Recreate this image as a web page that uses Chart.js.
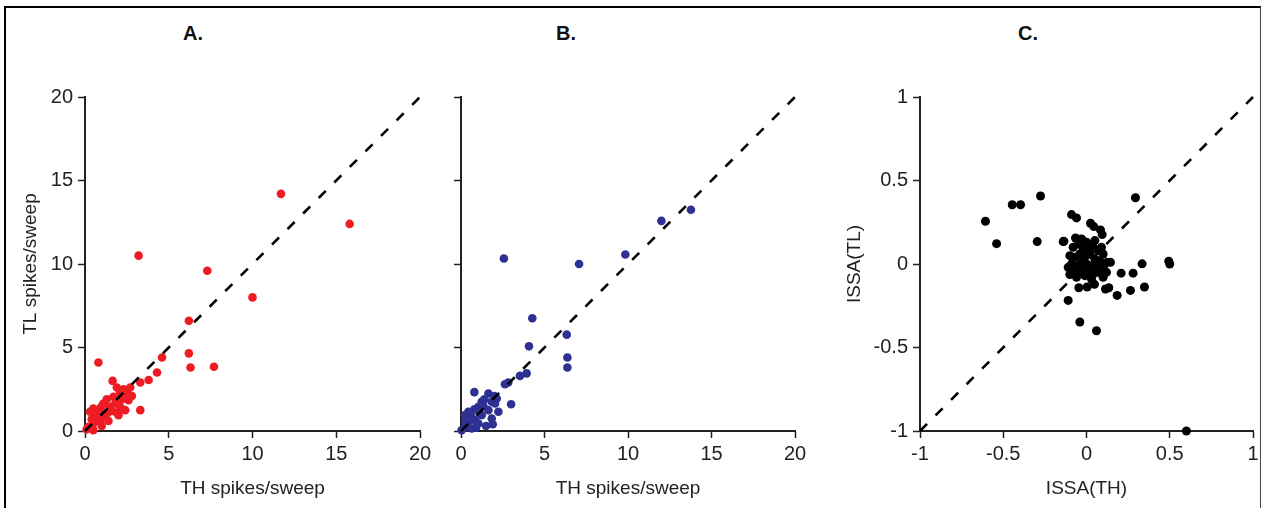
<!DOCTYPE html>
<html><head><meta charset="utf-8">
<script src="https://cdn.jsdelivr.net/npm/chart.js@4/dist/chart.umd.min.js"></script>
<style>
html,body{margin:0;padding:0;background:#fff;width:1263px;height:508px;overflow:hidden;position:relative;font-family:'Liberation Sans',Arial,sans-serif}
#frame{position:absolute;left:4px;top:6px;width:1257px;height:540px;border:2px solid #000;border-right:1.5px solid #444;border-bottom:none;box-sizing:border-box}
.wrap{position:absolute}
.lbl{position:absolute;font-weight:bold;font-size:20px;color:#111;transform:translateX(-50%)}
</style>
</head><body>
<div id="frame"></div>
<div class="lbl" style="left:193px;top:22px">A.</div>
<div class="lbl" style="left:566px;top:22px">B.</div>
<div class="lbl" style="left:1028px;top:22px">C.</div>
<div class="wrap" style="left:8px;top:80px"><canvas id="cA" width="432" height="425"></canvas></div>
<div class="wrap" style="left:445px;top:80px"><canvas id="cB" width="370" height="425"></canvas></div>
<div class="wrap" style="left:820px;top:80px"><canvas id="cC" width="443" height="425"></canvas></div>
<script>
// ---- data ----
const spikeTicks = [0, 5, 10, 15, 20];
const issaTicks = [-1, -0.5, 0, 0.5, 1];

const aTH = [15.8,11.7,3.2,7.3,10.0,6.2,6.2,6.3,7.7,4.6,0.8,3.8,3.3,4.3,3.3,1.65,
  2.3,2.1,2.5,2.6,2.4,2.0,1.7,1.8,1.5,1.1,0.9,0.5,0.3,1.2,0.9,0.5,0.2,0.5,1.35,0.8,2.1,1.0,0.7,1.4,1.9,2.2,1.3,0.6,0.1,1.6,1.0,0.4,2.8,2.7,1.9];
const aTL = [12.4,14.2,10.5,9.6,8.0,6.6,4.65,3.8,3.85,4.4,4.1,3.05,2.9,3.5,1.25,3.0,
  2.5,2.3,2.2,1.85,1.25,0.95,2.05,1.65,1.45,1.65,1.35,1.35,1.15,0.85,0.55,0.45,0.25,0.05,1.1,1.1,1.45,0.3,0.8,0.6,2.6,1.9,1.9,1.0,0.1,1.2,1.5,0.7,2.1,2.6,1.1];

const bTH = [2.57,7.07,9.84,12.0,13.77,4.27,6.33,4.07,6.37,6.37,3.93,3.53,2.83,2.63,0.8,1.64,2.14,3.0,1.84,1.24,1.04,0.8,0.44,0.24,1.64,1.24,1.84,0.84,0.44,1.04,0.24,0.64,0.04,2.04,1.34,2.24,1.5,0.6,2.0,1.1,0.3,1.9,1.4,0.9];
const bTL = [10.33,10.0,10.57,12.58,13.25,6.75,5.77,5.07,4.4,3.8,3.45,3.3,2.9,2.8,2.33,2.25,1.95,1.6,1.75,1.75,1.45,1.3,1.15,0.95,1.25,0.95,0.75,0.65,0.55,0.45,0.25,0.15,0.05,1.65,1.5,1.15,0.3,0.9,2.1,1.1,0.6,0.4,1.9,0.2];

const cTH = [-0.607,-0.54,-0.446,-0.396,-0.276,-0.296,-0.14,-0.09,-0.06,0.024,0.044,0.084,0.094,-0.136,-0.066,-0.026,0.334,0.494,0.5,0.294,0.208,0.28,0.348,0.264,0.184,0.134,0.114,0.048,0.004,-0.046,-0.11,-0.04,0.06,-0.1,0.124,0.144,0.6,
  -0.08,-0.05,-0.02,0.01,0.04,0.07,0.10,-0.10,-0.07,-0.04,-0.01,0.02,0.05,0.08,0.11,-0.09,-0.06,-0.03,0.0,0.03,0.06,0.09,-0.08,-0.05,-0.02,0.01,0.04,0.07,0.10,-0.06,-0.01,0.03,0.0,0.05,-0.03,0.12,-0.11,0.09];
const cTL = [0.256,0.122,0.355,0.355,0.407,0.134,0.134,0.296,0.276,0.244,0.224,0.204,0.176,0.136,0.156,0.144,0.001,0.017,0.0,0.397,-0.055,-0.055,-0.138,-0.158,-0.188,-0.142,-0.15,-0.122,-0.138,-0.142,-0.218,-0.347,-0.40,-0.063,0.01,0.01,-1.0,
  0.10,0.12,0.09,0.11,0.10,0.08,0.06,0.05,0.04,0.06,0.04,0.06,0.03,0.02,0.0,0.0,-0.01,0.01,0.0,-0.01,-0.02,-0.03,-0.04,-0.05,-0.03,-0.04,-0.06,-0.05,-0.08,-0.08,-0.07,-0.09,0.13,0.14,0.15,-0.05,-0.02,0.10];

// ---- helpers ----
const FONT = "'Liberation Sans', Arial, sans-serif";
const INK = '#222';
function pts(xs, ys){ return xs.map((x,i)=>({x:x, y:ys[i]})); }

function axis(ticksArr, opts){
  return {
    type:'linear', min:ticksArr[0], max:ticksArr[ticksArr.length-1],
    afterBuildTicks: s => { s.ticks = ticksArr.map(v=>({value:v})); },
    afterFit: s => { if (opts.w !== undefined) s.width = opts.w; if (opts.h !== undefined) s.height = opts.h; },
    grid:{ display:true, drawOnChartArea:false, drawTicks:true, tickLength:7, tickWidth:1.5, tickColor:INK },
    border:{ display:true, color:INK, width:2 },
    ticks:{ display:true, color:INK, padding:opts.tp, font:{family:FONT, size:20},
            callback: v => opts.labels ? String(v) : '' },
    title:{ display: !!opts.title, text: opts.title || '', color:INK,
            font:{family:FONT, size:19}, padding: opts.titlePad }
  };
}

function makeChart(id, xs, ys, color, r, ticksArr, cfg){
  const lo = ticksArr[0], hi = ticksArr[ticksArr.length-1];
  return new Chart(document.getElementById(id), {
    type:'scatter',
    data:{ datasets:[
      { type:'line', data:[{x:lo,y:lo},{x:hi,y:hi}], showLine:true, borderColor:'#000', borderWidth:2.6,
        borderDash:[10,12], pointRadius:0, fill:false, clip:false },
      { data:pts(xs, ys), backgroundColor:color, borderWidth:0, pointRadius:r, pointHoverRadius:r, clip:false }
    ]},
    options:{
      responsive:false, animation:false, devicePixelRatio:1,
      layout:{ padding:{ left:0, right:cfg.padR, top:16, bottom:0 } },
      plugins:{ legend:{display:false}, tooltip:{enabled:false} },
      scales:{
        x: axis(ticksArr, { h:74, labels:true, tp:4, title:cfg.xTitle, titlePad:{top:0,bottom:5} }),
        y: axis(ticksArr, { w:cfg.yw, labels:cfg.yLabels, tp:5, title:cfg.yTitle, titlePad:{top:cfg.yTitlePad,bottom:0} })
      }
    }
  });
}

makeChart('cA', aTH, aTL, '#ED1C24', 4.3, spikeTicks,
  { padR:20, yw:77, yLabels:true, xTitle:'TH spikes/sweep', yTitle:'TL spikes/sweep', yTitlePad:11 });
makeChart('cB', bTH, bTL, '#2E3192', 4.3, spikeTicks,
  { padR:20, yw:16, yLabels:false, xTitle:'TH spikes/sweep', yTitle:'', yTitlePad:0 });
makeChart('cC', cTH, cTL, '#000000', 4.5, issaTicks,
  { padR:10, yw:100, yLabels:true, xTitle:'ISSA(TH)', yTitle:'ISSA(TL)', yTitlePad:23 });
</script>
</body></html>
